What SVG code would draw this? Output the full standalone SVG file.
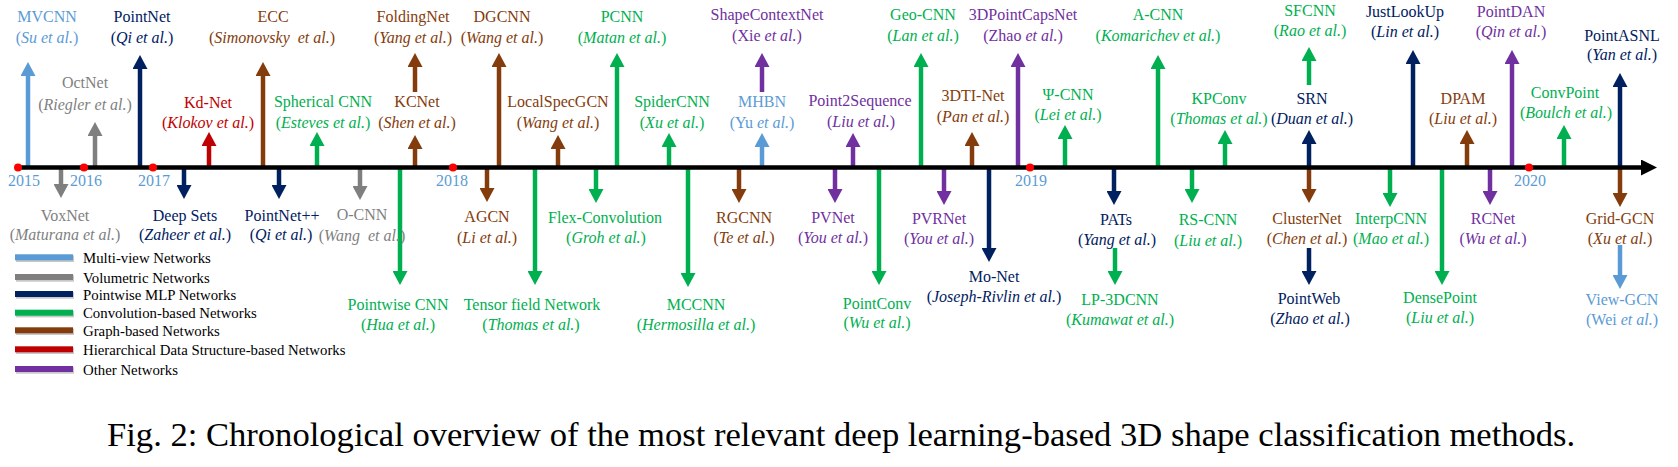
<svg xmlns="http://www.w3.org/2000/svg" width="1678" height="467" viewBox="0 0 1678 467">
<style>
text{font-family:"Liberation Serif","Times New Roman",serif;font-size:16px;text-anchor:middle}
.i{font-style:italic}
.mv{fill:#5B9BD5}.vol{fill:#7F7F7F}.mlp{fill:#002060}.conv{fill:#00B050}.graph{fill:#843C0C}.hier{fill:#C00000}.oth{fill:#7030A0}
.year{fill:#5B9BD5;font-size:16px}
.leg{font-size:14.8px;text-anchor:start;fill:#000}
.cap{font-size:34.6px;text-anchor:start;fill:#000}
#connectors line{stroke-width:4.5;fill:none}
.smv{stroke:#5B9BD5}.svol{stroke:#7F7F7F}.smlp{stroke:#002060}.sconv{stroke:#00B050}.sgraph{stroke:#843C0C}.shier{stroke:#C00000}.soth{stroke:#7030A0}
</style>
<defs>
<marker id="h-mv" markerUnits="userSpaceOnUse" markerWidth="14" markerHeight="15" refX="0" refY="7.5" orient="auto"><path d="M0,0L14,7.5L0,15Z" fill="#5B9BD5"/></marker>
<marker id="h-vol" markerUnits="userSpaceOnUse" markerWidth="14" markerHeight="15" refX="0" refY="7.5" orient="auto"><path d="M0,0L14,7.5L0,15Z" fill="#7F7F7F"/></marker>
<marker id="h-mlp" markerUnits="userSpaceOnUse" markerWidth="14" markerHeight="15" refX="0" refY="7.5" orient="auto"><path d="M0,0L14,7.5L0,15Z" fill="#002060"/></marker>
<marker id="h-conv" markerUnits="userSpaceOnUse" markerWidth="14" markerHeight="15" refX="0" refY="7.5" orient="auto"><path d="M0,0L14,7.5L0,15Z" fill="#00B050"/></marker>
<marker id="h-graph" markerUnits="userSpaceOnUse" markerWidth="14" markerHeight="15" refX="0" refY="7.5" orient="auto"><path d="M0,0L14,7.5L0,15Z" fill="#843C0C"/></marker>
<marker id="h-hier" markerUnits="userSpaceOnUse" markerWidth="14" markerHeight="15" refX="0" refY="7.5" orient="auto"><path d="M0,0L14,7.5L0,15Z" fill="#C00000"/></marker>
<marker id="h-oth" markerUnits="userSpaceOnUse" markerWidth="14" markerHeight="15" refX="0" refY="7.5" orient="auto"><path d="M0,0L14,7.5L0,15Z" fill="#7030A0"/></marker>
<marker id="h-axis" markerUnits="userSpaceOnUse" markerWidth="16" markerHeight="16" refX="0" refY="8" orient="auto"><path d="M0,0L16,8L0,16Z" fill="#000"/></marker>
</defs>
<rect width="1678" height="467" fill="#fff"/>

<g id="connectors">
<line class="smv" x1="28" y1="167" x2="28" y2="76" marker-end="url(#h-mv)"/>
<line class="svol" x1="95" y1="167" x2="95" y2="136" marker-end="url(#h-vol)"/>
<line class="smlp" x1="140" y1="167" x2="140" y2="69" marker-end="url(#h-mlp)"/>
<line class="shier" x1="209" y1="167" x2="209" y2="146" marker-end="url(#h-hier)"/>
<line class="sgraph" x1="263" y1="167" x2="263" y2="76" marker-end="url(#h-graph)"/>
<line class="sconv" x1="317" y1="167" x2="317" y2="146" marker-end="url(#h-conv)"/>
<line class="sgraph" x1="415" y1="167" x2="415" y2="149" marker-end="url(#h-graph)"/>
<line class="sgraph" x1="415" y1="92" x2="415" y2="67" marker-end="url(#h-graph)"/>
<line class="sgraph" x1="499" y1="167" x2="499" y2="67" marker-end="url(#h-graph)"/>
<line class="sgraph" x1="558" y1="167" x2="558" y2="149" marker-end="url(#h-graph)"/>
<line class="sconv" x1="617" y1="167" x2="617" y2="67" marker-end="url(#h-conv)"/>
<line class="sconv" x1="669" y1="167" x2="669" y2="147" marker-end="url(#h-conv)"/>
<line class="soth" x1="762" y1="92" x2="762" y2="67" marker-end="url(#h-oth)"/>
<line class="smv" x1="762" y1="167" x2="762" y2="147" marker-end="url(#h-mv)"/>
<line class="soth" x1="853" y1="167" x2="853" y2="147" marker-end="url(#h-oth)"/>
<line class="sconv" x1="921" y1="167" x2="921" y2="67" marker-end="url(#h-conv)"/>
<line class="sgraph" x1="972" y1="167" x2="972" y2="146" marker-end="url(#h-graph)"/>
<line class="soth" x1="1018" y1="167" x2="1018" y2="67" marker-end="url(#h-oth)"/>
<line class="sconv" x1="1065" y1="167" x2="1065" y2="139" marker-end="url(#h-conv)"/>
<line class="sconv" x1="1158" y1="167" x2="1158" y2="69" marker-end="url(#h-conv)"/>
<line class="sconv" x1="1225" y1="167" x2="1225" y2="144" marker-end="url(#h-conv)"/>
<line class="smlp" x1="1309" y1="167" x2="1309" y2="144" marker-end="url(#h-mlp)"/>
<line class="sconv" x1="1309" y1="85" x2="1309" y2="61" marker-end="url(#h-conv)"/>
<line class="smlp" x1="1413" y1="167" x2="1413" y2="64" marker-end="url(#h-mlp)"/>
<line class="sgraph" x1="1467" y1="167" x2="1467" y2="144" marker-end="url(#h-graph)"/>
<line class="soth" x1="1512" y1="167" x2="1512" y2="64" marker-end="url(#h-oth)"/>
<line class="sconv" x1="1564" y1="167" x2="1564" y2="139" marker-end="url(#h-conv)"/>
<line class="smlp" x1="1620" y1="167" x2="1620" y2="87" marker-end="url(#h-mlp)"/>
<line class="svol" x1="61" y1="168" x2="61" y2="184" marker-end="url(#h-vol)"/>
<line class="smlp" x1="184" y1="168" x2="184" y2="185" marker-end="url(#h-mlp)"/>
<line class="smlp" x1="279" y1="168" x2="279" y2="185" marker-end="url(#h-mlp)"/>
<line class="svol" x1="360" y1="168" x2="360" y2="186" marker-end="url(#h-vol)"/>
<line class="sconv" x1="400" y1="168" x2="400" y2="271" marker-end="url(#h-conv)"/>
<line class="sgraph" x1="487" y1="168" x2="487" y2="188" marker-end="url(#h-graph)"/>
<line class="sconv" x1="535" y1="168" x2="535" y2="271" marker-end="url(#h-conv)"/>
<line class="sconv" x1="596" y1="168" x2="596" y2="189" marker-end="url(#h-conv)"/>
<line class="sconv" x1="688" y1="168" x2="688" y2="273" marker-end="url(#h-conv)"/>
<line class="sgraph" x1="739" y1="168" x2="739" y2="189" marker-end="url(#h-graph)"/>
<line class="soth" x1="835" y1="168" x2="835" y2="189" marker-end="url(#h-oth)"/>
<line class="sconv" x1="879" y1="168" x2="879" y2="271" marker-end="url(#h-conv)"/>
<line class="soth" x1="944" y1="168" x2="944" y2="191" marker-end="url(#h-oth)"/>
<line class="smlp" x1="989" y1="168" x2="989" y2="248" marker-end="url(#h-mlp)"/>
<line class="smlp" x1="1114" y1="168" x2="1114" y2="191" marker-end="url(#h-mlp)"/>
<line class="sconv" x1="1115" y1="248" x2="1115" y2="271" marker-end="url(#h-conv)"/>
<line class="sconv" x1="1192" y1="168" x2="1192" y2="189" marker-end="url(#h-conv)"/>
<line class="sgraph" x1="1309" y1="168" x2="1309" y2="189" marker-end="url(#h-graph)"/>
<line class="smlp" x1="1309" y1="248" x2="1309" y2="271" marker-end="url(#h-mlp)"/>
<line class="sconv" x1="1390" y1="168" x2="1390" y2="193" marker-end="url(#h-conv)"/>
<line class="sconv" x1="1442" y1="168" x2="1442" y2="271" marker-end="url(#h-conv)"/>
<line class="soth" x1="1490" y1="168" x2="1490" y2="191" marker-end="url(#h-oth)"/>
<line class="sgraph" x1="1620" y1="168" x2="1620" y2="193" marker-end="url(#h-graph)"/>
<line class="smv" x1="1620" y1="245" x2="1620" y2="275" marker-end="url(#h-mv)"/>
</g>

<g id="axis">
<line x1="18" y1="167.5" x2="1641" y2="167.5" stroke="#000" stroke-width="4.5" marker-end="url(#h-axis)"/>
<g fill="#FF0000">
<circle cx="18" cy="167.5" r="4"/><circle cx="84" cy="167.5" r="4"/><circle cx="153" cy="167.5" r="4"/>
<circle cx="453" cy="167.5" r="4"/><circle cx="1030" cy="167.5" r="4"/><circle cx="1529" cy="167.5" r="4"/>
</g>
<text class="year" x="24" y="186">2015</text>
<text class="year" x="86" y="186">2016</text>
<text class="year" x="154" y="186">2017</text>
<text class="year" x="452" y="186">2018</text>
<text class="year" x="1031" y="186">2019</text>
<text class="year" x="1530" y="186">2020</text>
</g>

<g id="n-mvcnn" class="mv"><text x="47" y="22">MVCNN</text><text x="47" y="43">(<tspan class="i">Su et al.</tspan>)</text></g>
<g id="n-octnet" class="vol"><text x="85" y="88">OctNet</text><text x="85" y="110">(<tspan class="i">Riegler et al.</tspan>)</text></g>
<g id="n-pointnet" class="mlp"><text x="142" y="22">PointNet</text><text x="142" y="43">(<tspan class="i">Qi et al.</tspan>)</text></g>
<g id="n-kdnet" class="hier"><text x="208" y="108">Kd-Net</text><text x="208" y="128">(<tspan class="i">Klokov et al.</tspan>)</text></g>
<g id="n-ecc" class="graph"><text x="273" y="22">ECC</text><text x="272" y="43" xml:space="preserve">(<tspan class="i">Simonovsky  et al.</tspan>)</text></g>
<g id="n-sphericalcnn" class="conv"><text x="323" y="107">Spherical CNN</text><text x="323" y="128">(<tspan class="i">Esteves et al.</tspan>)</text></g>
<g id="n-kcnet" class="graph"><text x="417" y="107">KCNet</text><text x="417" y="128">(<tspan class="i">Shen et al.</tspan>)</text></g>
<g id="n-foldingnet" class="graph"><text x="413" y="22">FoldingNet</text><text x="413" y="43">(<tspan class="i">Yang et al.</tspan>)</text></g>
<g id="n-dgcnn" class="graph"><text x="502" y="22">DGCNN</text><text x="502" y="43">(<tspan class="i">Wang et al.</tspan>)</text></g>
<g id="n-localspecgcn" class="graph"><text x="558" y="107">LocalSpecGCN</text><text x="558" y="128">(<tspan class="i">Wang et al.</tspan>)</text></g>
<g id="n-pcnn" class="conv"><text x="622" y="22">PCNN</text><text x="622" y="43">(<tspan class="i">Matan et al.</tspan>)</text></g>
<g id="n-spidercnn" class="conv"><text x="672" y="107">SpiderCNN</text><text x="672" y="128">(<tspan class="i">Xu et al.</tspan>)</text></g>
<g id="n-shapecontextnet" class="oth"><text x="767" y="20">ShapeContextNet</text><text x="767" y="41">(Xie <tspan class="i">et al.</tspan>)</text></g>
<g id="n-mhbn" class="mv"><text x="762" y="107">MHBN</text><text x="762" y="128">(Yu <tspan class="i">et al.</tspan>)</text></g>
<g id="n-point2sequence" class="oth"><text x="860" y="106">Point2Sequence</text><text x="861" y="127">(<tspan class="i">Liu et al.</tspan>)</text></g>
<g id="n-geocnn" class="conv"><text x="923" y="20">Geo-CNN</text><text x="923" y="41">(<tspan class="i">Lan et al.</tspan>)</text></g>
<g id="n-3dpointcapsnet" class="oth"><text x="1023" y="20">3DPointCapsNet</text><text x="1023" y="41">(Zhao <tspan class="i">et al.</tspan>)</text></g>
<g id="n-3dtinet" class="graph"><text x="973" y="101">3DTI-Net</text><text x="973" y="122">(<tspan class="i">Pan et al.</tspan>)</text></g>
<g id="n-psicnn" class="conv"><text x="1068" y="100">Ψ-CNN</text><text x="1068" y="120">(<tspan class="i">Lei et al.</tspan>)</text></g>
<g id="n-acnn" class="conv"><text x="1158" y="20">A-CNN</text><text x="1158" y="41">(<tspan class="i">Komarichev et al.</tspan>)</text></g>
<g id="n-kpconv" class="conv"><text x="1219" y="104">KPConv</text><text x="1219" y="124">(<tspan class="i">Thomas et al.</tspan>)</text></g>
<g id="n-srn" class="mlp"><text x="1312" y="104">SRN</text><text x="1312" y="124">(<tspan class="i">Duan et al.</tspan>)</text></g>
<g id="n-sfcnn" class="conv"><text x="1310" y="16">SFCNN</text><text x="1310" y="36">(<tspan class="i">Rao et al.</tspan>)</text></g>
<g id="n-justlookup" class="mlp"><text x="1405" y="17">JustLookUp</text><text x="1405" y="37">(<tspan class="i">Lin et al.</tspan>)</text></g>
<g id="n-dpam" class="graph"><text x="1463" y="104">DPAM</text><text x="1463" y="124">(<tspan class="i">Liu et al.</tspan>)</text></g>
<g id="n-pointdan" class="oth"><text x="1511" y="17">PointDAN</text><text x="1511" y="37">(<tspan class="i">Qin et al.</tspan>)</text></g>
<g id="n-convpoint" class="conv"><text x="1565" y="98">ConvPoint</text><text x="1566" y="118">(<tspan class="i">Boulch et al.</tspan>)</text></g>
<g id="n-pointasnl" class="mlp"><text x="1622" y="41">PointASNL</text><text x="1622" y="60">(<tspan class="i">Yan et al.</tspan>)</text></g>

<g id="n-voxnet" class="vol"><text x="65" y="221">VoxNet</text><text x="65" y="240">(<tspan class="i">Maturana et al.</tspan>)</text></g>
<g id="n-deepsets" class="mlp"><text x="185" y="221">Deep Sets</text><text x="185" y="240">(<tspan class="i">Zaheer et al.</tspan>)</text></g>
<g id="n-pointnetpp" class="mlp"><text x="282" y="221">PointNet++</text><text x="281" y="240">(<tspan class="i">Qi et al.</tspan>)</text></g>
<g id="n-ocnn" class="vol"><text x="362" y="220">O-CNN</text><text x="362" y="241" xml:space="preserve">(<tspan class="i">Wang  et al.</tspan>)</text></g>
<g id="n-pointwisecnn" class="conv"><text x="398" y="310">Pointwise CNN</text><text x="398" y="330">(<tspan class="i">Hua et al.</tspan>)</text></g>
<g id="n-agcn" class="graph"><text x="487" y="222">AGCN</text><text x="487" y="243">(<tspan class="i">Li et al.</tspan>)</text></g>
<g id="n-tensorfield" class="conv"><text x="532" y="310">Tensor field Network</text><text x="531" y="330">(<tspan class="i">Thomas et al.</tspan>)</text></g>
<g id="n-flexconv" class="conv"><text x="605" y="223">Flex-Convolution</text><text x="606" y="243">(<tspan class="i">Groh et al.</tspan>)</text></g>
<g id="n-mccnn" class="conv"><text x="696" y="310">MCCNN</text><text x="696" y="330">(<tspan class="i">Hermosilla et al.</tspan>)</text></g>
<g id="n-rgcnn" class="graph"><text x="744" y="223">RGCNN</text><text x="744" y="243">(<tspan class="i">Te et al.</tspan>)</text></g>
<g id="n-pvnet" class="oth"><text x="833" y="223">PVNet</text><text x="833" y="243">(<tspan class="i">You et al.</tspan>)</text></g>
<g id="n-pointconv" class="conv"><text x="877" y="309">PointConv</text><text x="877" y="328">(<tspan class="i">Wu et al.</tspan>)</text></g>
<g id="n-pvrnet" class="oth"><text x="939" y="224">PVRNet</text><text x="939" y="244">(<tspan class="i">You et al.</tspan>)</text></g>
<g id="n-monet" class="mlp"><text x="994" y="282">Mo-Net</text><text x="994" y="302">(<tspan class="i">Joseph-Rivlin et al.</tspan>)</text></g>
<g id="n-pats" class="mlp"><text x="1116" y="225">PATs</text><text x="1117" y="245">(<tspan class="i">Yang et al.</tspan>)</text></g>
<g id="n-lp3dcnn" class="conv"><text x="1120" y="305">LP-3DCNN</text><text x="1120" y="325">(<tspan class="i">Kumawat et al.</tspan>)</text></g>
<g id="n-rscnn" class="conv"><text x="1208" y="225">RS-CNN</text><text x="1208" y="246">(<tspan class="i">Liu et al.</tspan>)</text></g>
<g id="n-clusternet" class="graph"><text x="1307" y="224">ClusterNet</text><text x="1307" y="244">(<tspan class="i">Chen et al.</tspan>)</text></g>
<g id="n-pointweb" class="mlp"><text x="1309" y="304">PointWeb</text><text x="1310" y="324">(<tspan class="i">Zhao et al.</tspan>)</text></g>
<g id="n-interpcnn" class="conv"><text x="1391" y="224">InterpCNN</text><text x="1391" y="244">(<tspan class="i">Mao et al.</tspan>)</text></g>
<g id="n-densepoint" class="conv"><text x="1440" y="303">DensePoint</text><text x="1440" y="323">(<tspan class="i">Liu et al.</tspan>)</text></g>
<g id="n-rcnet" class="oth"><text x="1493" y="224">RCNet</text><text x="1493" y="244">(<tspan class="i">Wu et al.</tspan>)</text></g>
<g id="n-gridgcn" class="graph"><text x="1620" y="224">Grid-GCN</text><text x="1620" y="244">(<tspan class="i">Xu et al.</tspan>)</text></g>
<g id="n-viewgcn" class="mv"><text x="1622" y="305">View-GCN</text><text x="1622" y="325">(Wei <tspan class="i">et al.</tspan>)</text></g>

<g id="legend">
<g fill="#C8C8C8">
<rect x="16" y="255.5" width="58" height="6.5"/><rect x="16" y="275.2" width="58" height="6.5"/><rect x="16" y="292.2" width="58" height="6.5"/>
<rect x="16" y="310.9" width="58" height="6.5"/><rect x="16" y="328.5" width="58" height="6.5"/><rect x="16" y="347.5" width="58" height="6.5"/><rect x="16" y="367.2" width="58" height="6.5"/>
</g>
<rect x="15" y="254.3" width="58" height="6" fill="#5B9BD5"/>
<rect x="15" y="274" width="58" height="6" fill="#7F7F7F"/>
<rect x="15" y="291" width="58" height="6" fill="#002060"/>
<rect x="15" y="309.7" width="58" height="6" fill="#00B050"/>
<rect x="15" y="327.3" width="58" height="6" fill="#843C0C"/>
<rect x="15" y="346.3" width="58" height="6" fill="#C00000"/>
<rect x="15" y="366" width="58" height="6" fill="#7030A0"/>
<text class="leg" x="83" y="263">Multi-view Networks</text>
<text class="leg" x="83" y="282.5">Volumetric Networks</text>
<text class="leg" x="83" y="299.5">Pointwise MLP Networks</text>
<text class="leg" x="83" y="318.3">Convolution-based Networks</text>
<text class="leg" x="83" y="336">Graph-based Networks</text>
<text class="leg" x="83" y="355">Hierarchical Data Structure-based Networks</text>
<text class="leg" x="83" y="374.5">Other Networks</text>
</g>

<text class="cap" x="107" y="446">Fig. 2: Chronological overview of the most relevant deep learning-based 3D shape classification methods.</text>
</svg>
